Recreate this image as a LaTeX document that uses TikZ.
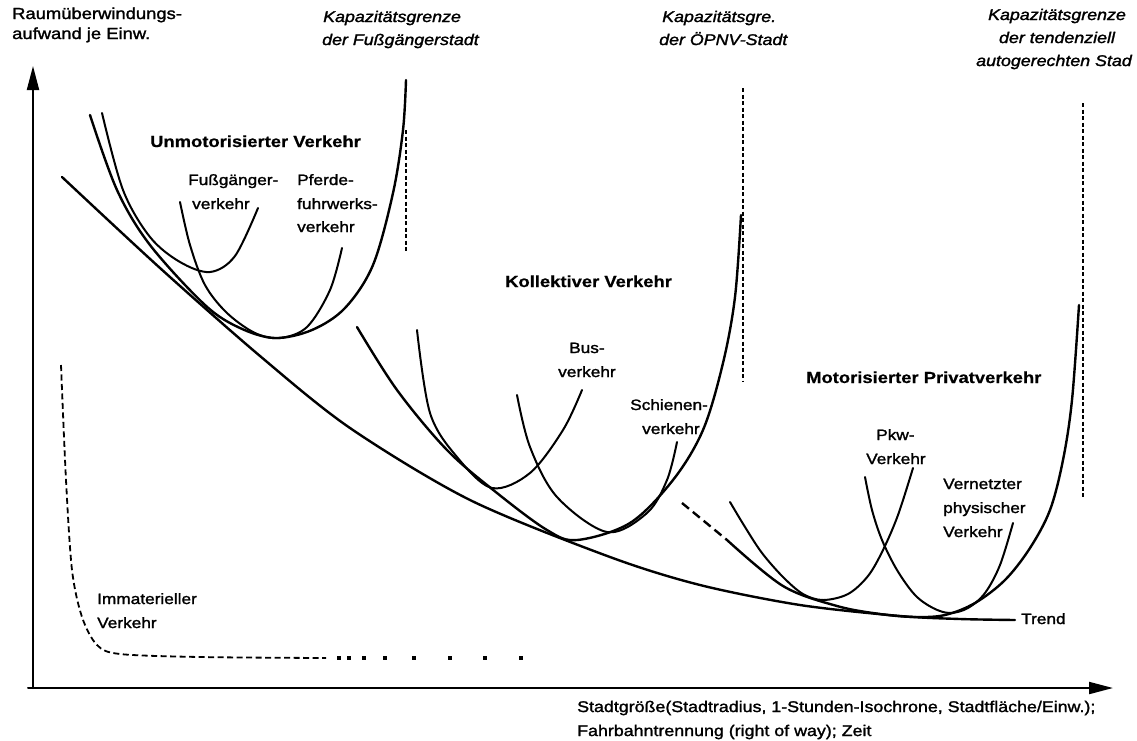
\documentclass[tikz,border=0pt]{standalone}
\usepackage{fontspec}
\setmainfont[FakeStretch=1.15,FakeBold=1.6]{Liberation Sans}
\newfontfamily\titlefont[FakeStretch=1.15,FakeBold=0.6]{Liberation Sans}
\usetikzlibrary{arrows.meta}
\begin{document}
\begin{tikzpicture}[x=1pt,y=-1pt,line join=round,line cap=round,
  env/.style={line width=2.4pt},
  sub/.style={line width=2pt},
  axisline/.style={line width=2pt},
  limitline/.style={line width=1.5pt,dash pattern=on 4pt off 2.5pt,line cap=butt},
  immline/.style={line width=1.8pt,dash pattern=on 6pt off 3.5pt,line cap=butt},
  txt/.style={anchor=west,inner sep=0pt,text height=11pt,text depth=3pt,font=\fontsize{15}{18}\selectfont},
  axlab/.style={txt,font=\fontsize{16}{19}\selectfont},
  bot/.style={txt,font=\fontsize{15.5}{19}\selectfont},
  grp/.style={txt,font=\titlefont\bfseries\fontsize{16}{19}\selectfont},
  kaplab/.style={txt,font=\itshape\fontsize{15.5}{19}\selectfont},
  dot/.style={rectangle,fill,inner sep=0pt,minimum size=3.2pt}
]
\useasboundingbox[fill=white] (0,0) rectangle (1137,740);

% axes
\coordinate (O) at (33,688);
\coordinate (ytip) at (33,66);
\coordinate (xtip) at (1113,688);
\draw[axisline,-{Triangle[length=24pt,width=12pt]}] (O) -- (ytip);
\draw[axisline,-{Triangle[length=24pt,width=12pt]}] (28,688) -- (xtip);

% axis labels
\node[axlab] (ylab1) at (12,15) {Raumüberwindungs-};
\node[axlab] (ylab2) at (12,35) {aufwand je Einw.};
\node[bot] (xlab1) at (577,708) {Stadtgröße(Stadtradius, 1-Stunden-Isochrone, Stadtfläche/Einw.);};
\node[bot] (xlab2) at (577,732) {Fahrbahntrennung (right of way); Zeit};

% capacity limits
\node[kaplab] (k1a) at (323,18) {Kapazitätsgrenze};
\node[kaplab] (k1b) at (322,41) {der Fußgängerstadt};
\node[kaplab] (k2a) at (662,18) {Kapazitätsgre.};
\node[kaplab] (k2b) at (659,41) {der ÖPNV-Stadt};
\node[kaplab,anchor=center] (k3a) at (1057,16) {Kapazitätsgrenze};
\node[kaplab,anchor=center] (k3b) at (1057,39) {der tendenziell};
\node[kaplab,anchor=center] (k3c) at (1054,62) {autogerechten Stad};
\draw[limitline] (406,130) -- (406,252);
\draw[limitline] (743,88) -- (743,382);
\draw[limitline] (1083,103) -- (1083,497);

% trend
\draw[env] plot[smooth,tension=0.5] coordinates {(62,177) (160,268) (260,356) (350,428) (470,500) (610,557) (700,585) (800,605) (900,616) (960,619) (1015,620)};
\node[txt] (trend) at (1021,620) {Trend};

% Unmotorisierter Verkehr
\node[grp] (g1) at (150,143) {Unmotorisierter Verkehr};
\draw[env] plot[smooth,tension=0.55] coordinates {(90,115) (117,190) (150,245) (205,305) (240,328) (275,338) (312,330) (345,308) (373,265) (393,193) (403,130) (406,80)};
\draw[sub] plot[smooth,tension=0.55] coordinates {(102,113) (123,190) (150,237) (180,262) (210,272) (235,256) (258,208)};
\draw[sub] plot[smooth,tension=0.55] coordinates {(180,202) (190,245) (205,285) (227,313) (255,333) (280,338) (307,327) (330,290) (342,248)};
\node[txt] (f1) at (188,181) {Fußgänger-};
\node[txt] (f2) at (192,205) {verkehr};
\node[txt] (p1) at (297,181) {Pferde-};
\node[txt] (p2) at (297,205) {fuhrwerks-};
\node[txt] (p3) at (297,228) {verkehr};

% Kollektiver Verkehr
\node[grp] (g2) at (505,283) {Kollektiver Verkehr};
\draw[env] plot[smooth,tension=0.55] coordinates {(357,327) (397,390) (447,450) (497,493) (547,530) (577,540) (630,523) (673,480) (703,430) (723,363) (735,297) (741,215)};
\draw[sub] plot[smooth,tension=0.55] coordinates {(417,330) (430,413) (457,457) (492,488) (530,473) (563,430) (582,390)};
\draw[sub] plot[smooth,tension=0.55] coordinates {(517,395) (530,447) (557,497) (607,532) (647,513) (667,480) (677,442)};
\node[txt] (b1) at (569,349) {Bus-};
\node[txt] (b2) at (558,373) {verkehr};
\node[txt] (s1) at (630,406) {Schienen-};
\node[txt] (s2) at (642,430) {verkehr};

% Motorisierter Privatverkehr
\node[grp] (g3) at (806,379) {Motorisierter Privatverkehr};
\draw[env,dash pattern=on 9pt off 5pt,line cap=butt] (682,503) -- (727,540);
\draw[env] plot[smooth,tension=0.55] coordinates {(727,540) (783,586) (837,606) (880,614) (915,617) (945,615) (975,603) (1005,580) (1030,548) (1050,510) (1063,460) (1072,400) (1079,305)};
\draw[sub] plot[smooth,tension=0.55] coordinates {(730,502) (745,527) (762,553) (783,577) (803,594) (823,600) (848,594) (868,576) (883,550) (898,515) (913,468)};
\draw[sub] plot[smooth,tension=0.55] coordinates {(865,477) (872,510) (882,540) (897,570) (915,595) (933,608) (950,613) (968,608) (985,593) (1000,565) (1013,523)};
\node[txt] (pk1) at (876,436) {Pkw-};
\node[txt] (pk2) at (866,460) {Verkehr};
\node[txt] (v1) at (943,485) {Vernetzter};
\node[txt] (v2) at (943,509) {physischer};
\node[txt] (v3) at (943,533) {Verkehr};

% Immaterieller Verkehr
\draw[immline] plot[smooth,tension=0.5] coordinates {(61,365) (66,480) (72,570) (82,617) (97,645) (120,654) (200,657) (326,658)};
\foreach \xx [count=\i] in {339,349,364,385,414,450,485,521} {\node[dot] (d\i) at (\xx,658) {};}
\node[txt] (im1) at (97,600) {Immaterieller};
\node[txt] (im2) at (97,624) {Verkehr};
\end{tikzpicture}
\end{document}
